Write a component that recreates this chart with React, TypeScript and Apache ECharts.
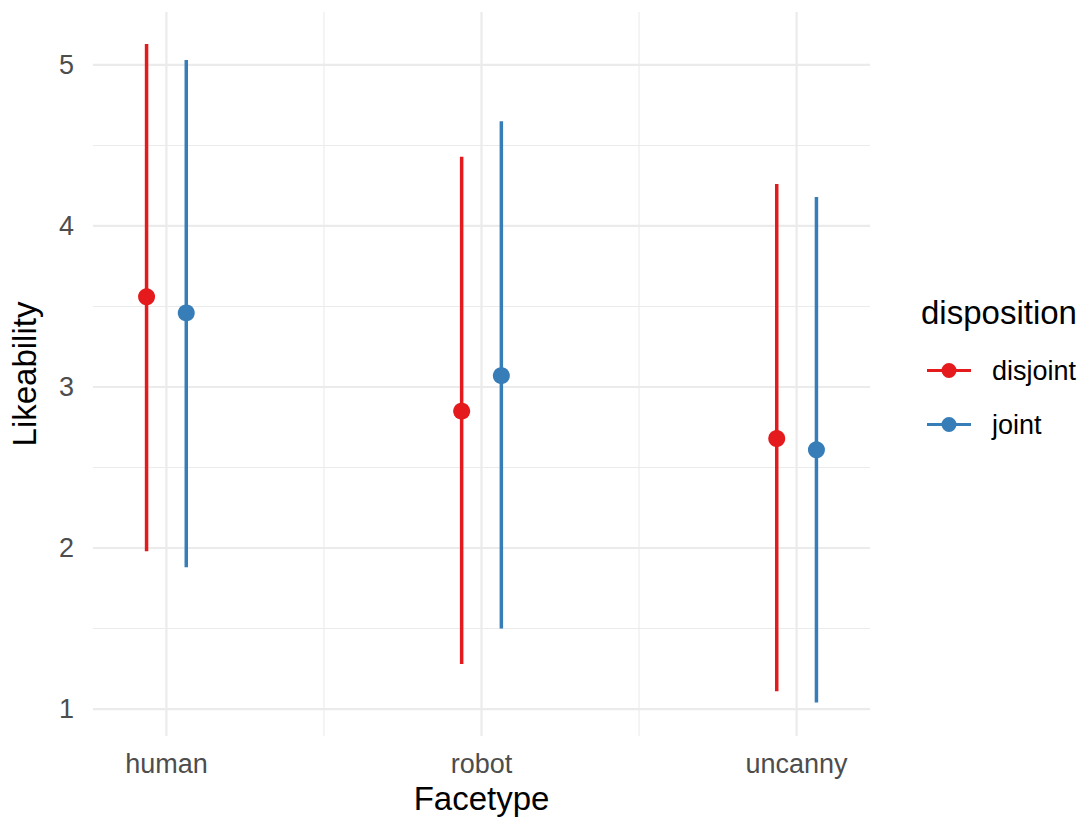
import React, { useEffect, useRef } from "react";
import * as echarts from "echarts";

const categories = ["human", "robot", "uncanny"];
const groups = ["disjoint", "joint"];
const disjointMean = [3.56, 2.85, 2.68];
const disjointLower = [1.98, 1.28, 1.11];
const disjointUpper = [5.13, 4.43, 4.26];
const jointMean = [3.46, 3.07, 2.61];
const jointLower = [1.88, 1.5, 1.04];
const jointUpper = [5.03, 4.65, 4.18];
const yTicks = [1, 2, 3, 4, 5];
const yMinor = [1.5, 2.5, 3.5, 4.5];
const xTicks = [1, 2, 3];
const xMinor = [1.5, 2.5];
const dodge = 0.063;

const COLORS = ["#E41A1C", "#377EB8"];
const FONT = "'Liberation Sans', Arial, Helvetica, sans-serif";
const X_MIN = 0.767;
const X_MAX = 3.233;
const Y_MIN = 0.8326;
const Y_MAX = 5.3287;

const legendIcon =
  "path://M0,6.5 H44 V9.5 H0 Z M29.5,8 A7.5,7.5 0 1,1 14.5,8 A7.5,7.5 0 1,1 29.5,8 Z";

export default function App() {
  const ref = useRef<HTMLDivElement>(null);
  useEffect(() => {
    if (!ref.current) return;
    const chart = echarts.init(ref.current, null, { renderer: "svg" });

    const gridSeries = (vals: number[], horizontal: boolean, width: number) => ({
      type: "custom",
      silent: true,
      z: 0,
      data: vals.map((v) => [v]),
      renderItem: (params: any, api: any) => {
        const cs = params.coordSys;
        const v = api.value(0);
        if (horizontal) {
          const y = api.coord([X_MIN, v])[1];
          return {
            type: "line",
            shape: { x1: cs.x, y1: y, x2: cs.x + cs.width, y2: y },
            style: { stroke: "#EBEBEB", lineWidth: width },
          };
        }
        const x = api.coord([v, Y_MIN])[0];
        return {
          type: "line",
          shape: { x1: x, y1: cs.y, x2: x, y2: cs.y + cs.height },
          style: { stroke: "#EBEBEB", lineWidth: width },
        };
      },
    });

    const means = [disjointMean, jointMean];
    const lowers = [disjointLower, jointLower];
    const uppers = [disjointUpper, jointUpper];
    const offsets = [-dodge, dodge];

    const errSeries = groups.map((g, gi) => ({
      type: "custom",
      silent: true,
      z: 2,
      data: categories.map((_, i) => [i + 1 + offsets[gi], lowers[gi][i], uppers[gi][i]]),
      renderItem: (params: any, api: any) => {
        const p1 = api.coord([api.value(0), api.value(1)]);
        const p2 = api.coord([api.value(0), api.value(2)]);
        return {
          type: "line",
          shape: { x1: p1[0], y1: p1[1], x2: p2[0], y2: p2[1] },
          style: { stroke: COLORS[gi], lineWidth: 3.5 },
        };
      },
    }));

    const pointSeries = groups.map((g, gi) => ({
      name: g,
      type: "scatter",
      z: 3,
      symbol: "circle",
      symbolSize: 17,
      itemStyle: { color: COLORS[gi], opacity: 1 },
      data: categories.map((_, i) => [i + 1 + offsets[gi], means[gi][i]]),
    }));

    chart.setOption({
      animation: false,
      backgroundColor: "#FFFFFF",
      textStyle: { fontFamily: FONT },
      title: {
        text: "disposition",
        left: 921,
        top: 296,
        padding: 0,
        textStyle: { fontFamily: FONT, fontSize: 33, fontWeight: "normal", color: "#000000" },
      },
      legend: {
        orient: "vertical",
        left: 927,
        top: 357,
        itemWidth: 44,
        itemHeight: 16,
        itemGap: 27,
        padding: 0,
        selectedMode: false,
        data: groups.map((g) => ({ name: g, icon: legendIcon })),
        textStyle: {
          fontFamily: FONT,
          fontSize: 27,
          color: "#000000",
          padding: [0, 0, 0, 16],
        },
      },
      grid: { left: 87, top: 12, width: 783, height: 725, containLabel: false },
      xAxis: {
        type: "value",
        min: X_MIN,
        max: X_MAX,
        name: "Facetype",
        nameLocation: "middle",
        nameGap: 46,
        nameTextStyle: { fontFamily: FONT, fontSize: 33, color: "#000000" },
        axisLine: { show: false },
        axisTick: { show: false },
        splitLine: { show: false },
        axisLabel: {
          customValues: xTicks,
          margin: 14,
          fontFamily: FONT,
          fontSize: 27,
          color: "#4D4D4D",
          formatter: (v: number) => categories[Math.round(v) - 1] ?? "",
        },
      },
      yAxis: {
        type: "value",
        min: Y_MIN,
        max: Y_MAX,
        name: "Likeability",
        nameLocation: "middle",
        nameGap: 52,
        nameTextStyle: { fontFamily: FONT, fontSize: 33, color: "#000000" },
        axisLine: { show: false },
        axisTick: { show: false },
        splitLine: { show: false },
        axisLabel: {
          customValues: yTicks,
          margin: 19,
          fontFamily: FONT,
          fontSize: 27,
          color: "#4D4D4D",
          formatter: (v: number) => String(v),
        },
      },
      series: [
        gridSeries(yMinor, true, 1.1),
        gridSeries(xMinor, false, 1.1),
        gridSeries(yTicks, true, 2.2),
        gridSeries(xTicks, false, 2.2),
        ...errSeries,
        ...pointSeries,
      ],
    });
    return () => chart.dispose();
  }, []);
  return (
    <div
      ref={ref}
      style={{ position: "fixed", left: 0, top: 0, width: 1087, height: 820, background: "#fff" }}
    />
  );
}
